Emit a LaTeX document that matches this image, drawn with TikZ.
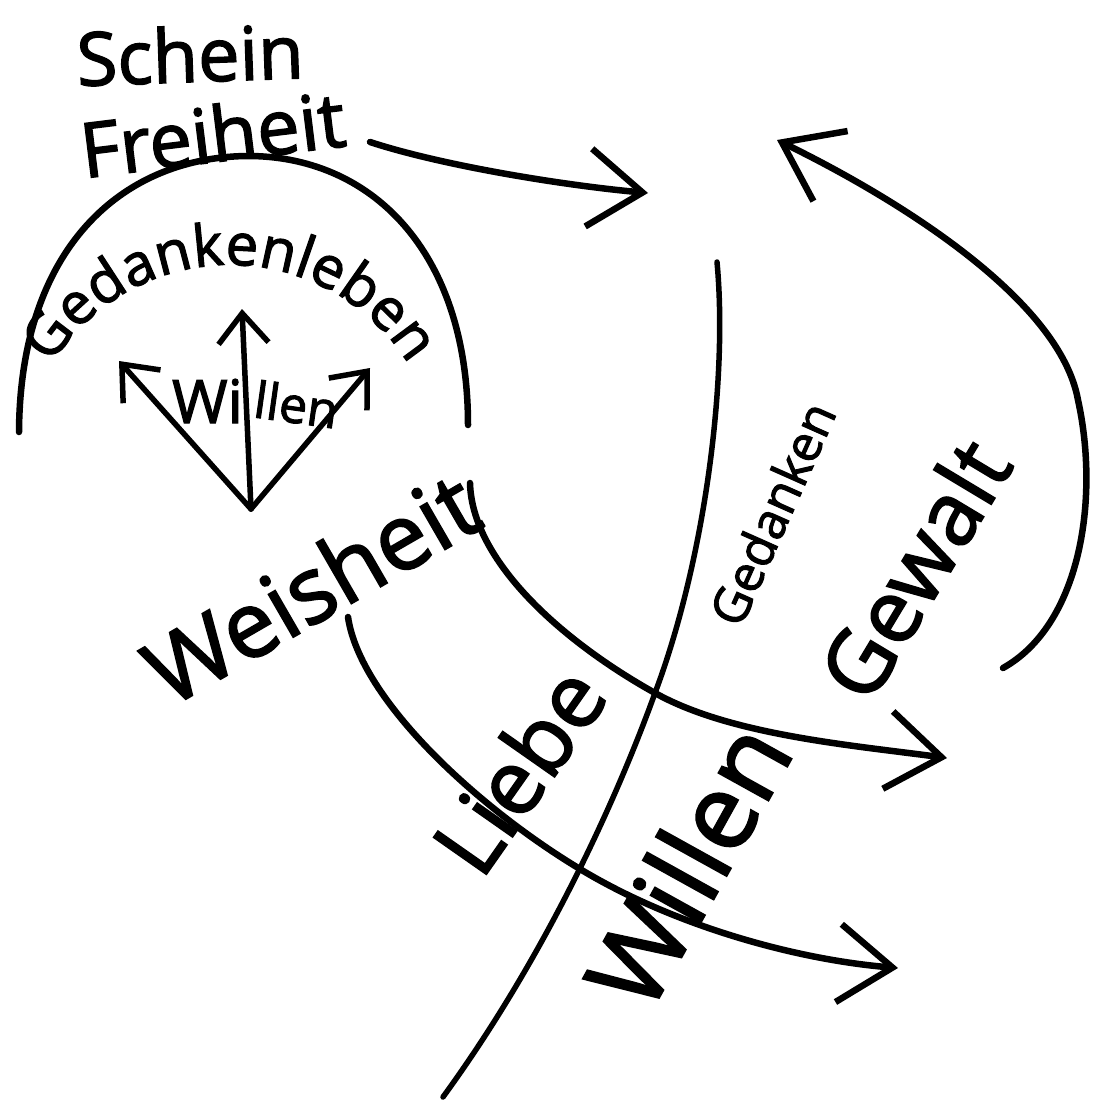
\documentclass[tikz,border=0pt]{standalone}
\usepackage{fontspec}
\setmainfont{Open Sans}[FakeBold=2]
\usetikzlibrary{arrows.meta,decorations.text}
\newcommand\fsz[1]{\fontsize{#1}{#1}\selectfont}
\begin{document}
\begin{tikzpicture}[x=1pt,y=-1pt,
  stroke/.style={line width=6.5pt, line cap=round, line join=round},
  barbbig/.style={-{Straight Barb[length=54pt,width=78pt]}},
  barbsmall/.style={-{Straight Barb[length=30pt,width=50pt]}},
  hand/.style={inner sep=0pt}]
\fill[white] (0,0) rectangle (1093,1101);
\useasboundingbox (0,0) rectangle (1093,1101);

% labels
\node[hand, anchor=base, rotate=2, font=\fsz{74}] (schein) at (191,82) {Schein};
\node[hand, anchor=base, rotate=7, font=\fsz{76}] (freiheit) at (216,162) {Freiheit};
\node[hand, anchor=base, rotate=30, font=\fsz{92}] (weisheit) at (328,617) {Weisheit};
\node[hand, anchor=base, rotate=55, font=\fsz{90}] (liebe) at (546,789) {Liebe};
\node[hand, anchor=base, rotate=61, font=\fsz{106}] (willen) at (722,884) {Willen};
\node[hand, anchor=base, rotate=59, font=\fsz{88}] (gewalt) at (942,586) {Gewalt};
\node[hand, anchor=base, rotate=66, font=\fsz{50}] (gedanken) at (789,521) {Gedanken};
\node[hand, anchor=base east, font=\fsz{60}] (wi) at (243,423) {Wi};
\node[hand, anchor=base west, rotate=-8, font=\fsz{50}] (llen) at (252,417) {llen};

% Gedankenleben along the arc
\path[decorate, decoration={text along path, text align=center,
  text={|\fsz{58}|Gedankenleben}}]
  (230,475) ++(-150:210) arc[start angle=-150, end angle=-30, radius=210];

% coordinates
\coordinate (fa) at (370,142);
\coordinate (fb) at (648,193);
\coordinate (ga) at (19,432);
\coordinate (gt) at (246,156);
\coordinate (gb) at (468,425);
\coordinate (wb) at (251,509);
\coordinate (wl) at (119,361);
\coordinate (wu) at (242,309);
\coordinate (wr) at (370,368);
\coordinate (ka) at (470,483);
\coordinate (kx) at (655,693);
\coordinate (kb) at (947,758);
\coordinate (la) at (348,617);
\coordinate (lx) at (585,872);
\coordinate (lb) at (898,968);
\coordinate (va) at (717,262);
\coordinate (vb) at (443,1097);
\coordinate (ra) at (1003,668);
\coordinate (rm) at (1078,400);
\coordinate (rb) at (777,140);

% Freiheit arrow
\draw[stroke, barbbig] (fa) .. controls (440,165) and (560,185) .. (fb);
% big arc
\draw[stroke] (ga) .. controls (20,250) and (120,158) .. (gt)
  .. controls (370,155) and (468,250) .. (gb);
% small Willen arrows
\draw[stroke, line width=5.5pt, barbsmall] (wb) -- (wl);
\draw[stroke, line width=5.5pt, barbsmall] (wb) -- (wu);
\draw[stroke, line width=5.5pt, barbsmall] (wb) -- (wr);
% arrow towards Gewalt
\draw[stroke, barbbig] (ka) .. controls (472,560) and (560,640) .. (kx)
  .. controls (730,735) and (850,745) .. (kb);
% lower arrow (Liebe / Willen)
\draw[stroke, barbbig] (la) .. controls (360,700) and (480,810) .. (lx)
  .. controls (680,928) and (800,960) .. (lb);
% Gedanken line
\draw[stroke, line width=5.5pt] (va) .. controls (728,380) and (705,560) .. (kx)
  .. controls (620,790) and (550,950) .. (vb);
% Gewalt arrow back to top
\draw[stroke, barbbig] (ra) .. controls (1080,625) and (1100,500) .. (rm)
  .. controls (1060,300) and (900,200) .. (rb);
\end{tikzpicture}
\end{document}
